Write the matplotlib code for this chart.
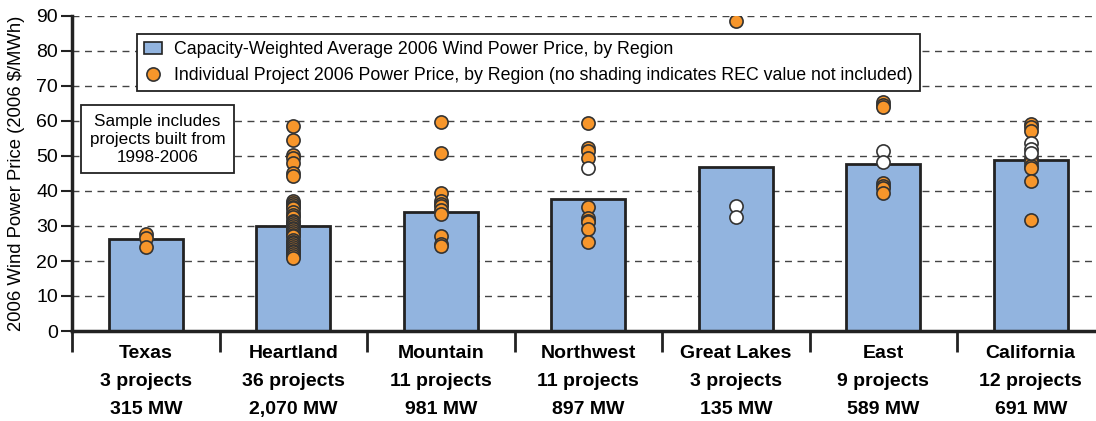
import matplotlib
matplotlib.use("Agg")
import matplotlib.pyplot as plt
from matplotlib.patches import Patch
from matplotlib.lines import Line2D

plt.rcParams['font.family'] = ['Liberation Sans', 'DejaVu Sans']

# regions and their capacity-weighted average price
regions = ['Texas', 'Heartland', 'Mountain', 'Northwest', 'Great Lakes', 'East', 'California']
n_projects = ['3 projects', '36 projects', '11 projects', '11 projects', '3 projects', '9 projects', '12 projects']
capacity = ['315 MW', '2,070 MW', '981 MW', '897 MW', '135 MW', '589 MW', '691 MW']
avg_price = [26.3, 30.0, 34.0, 37.8, 46.8, 47.7, 48.9]

# individual project prices (orange = REC value included, white = not included)
texas_rec = [27.6, 26.7, 24.1]
texas_norec = []
heartland_rec = [58.5, 54.5, 50.3, 49.5, 48.0, 45.0, 44.2,
                 37.0, 36.5, 36.0, 35.5, 35.0, 34.0, 33.0, 32.5, 31.5, 31.0,
                 30.5, 30.0, 29.5, 29.0, 28.5, 28.0, 27.5, 27.0, 26.0, 25.5,
                 25.0, 24.5, 24.0, 23.5, 23.0, 22.5, 22.0, 21.5, 21.0]
heartland_norec = []
mountain_rec = [59.7, 50.8, 39.3, 37.0, 36.3, 35.7, 34.5, 33.3, 27.2, 24.8, 24.2]
mountain_norec = []
northwest_rec = [59.3, 52.3, 51.5, 49.3, 35.5, 32.2, 31.5, 31.0, 29.1, 25.5]
northwest_norec = [46.5]
greatlakes_rec = [88.5]
greatlakes_norec = [35.7, 32.7]
east_rec = [65.3, 64.6, 63.9, 42.2, 41.5, 40.8, 39.3]
east_norec = [51.5, 48.4]
california_rec = [59.1, 58.2, 57.2, 49.3, 48.3, 47.1, 46.5, 42.9, 31.7]
california_norec = [53.8, 51.9, 50.8]

rec_points = [texas_rec, heartland_rec, mountain_rec, northwest_rec, greatlakes_rec, east_rec, california_rec]
norec_points = [texas_norec, heartland_norec, mountain_norec, northwest_norec, greatlakes_norec, east_norec, california_norec]

bar_color = '#92b4df'
dot_color = '#f7962b'
edge = '#222222'

fig = plt.figure(figsize=(10.96, 4.21), dpi=100)
ax = fig.add_axes([72 / 1096, 90 / 421, 1032.5 / 1096, 315 / 421])

x = list(range(len(regions)))
ax.bar(x, avg_price, width=0.5, color=bar_color, edgecolor=edge, linewidth=2, zorder=2)

for i in x:
    if rec_points[i]:
        ax.scatter([i] * len(rec_points[i]), rec_points[i], s=90, color=dot_color,
                   edgecolor='#333333', linewidth=1.2, zorder=3)
    if norec_points[i]:
        ax.scatter([i] * len(norec_points[i]), norec_points[i], s=90, color='white',
                   edgecolor='#333333', linewidth=1.2, zorder=3)

ax.set_xlim(-0.5, 6.5)
ax.set_ylim(0, 90)
ax.set_yticks(range(0, 91, 10))
ax.tick_params(axis='y', labelsize=14, length=8, width=1.5, color=edge, pad=2)
ax.yaxis.grid(True, linestyle=(0, (5, 4)), color='#444444', linewidth=1)
ax.set_axisbelow(True)

# category labels + divider ticks
ax.set_xticks(x)
ax.set_xticklabels([f'{r}\n{p}\n{c}' for r, p, c in zip(regions, n_projects, capacity)],
                   fontsize=14, fontweight='bold', linespacing=1.85)
ax.tick_params(axis='x', which='major', length=0, pad=10)
ax.set_xticks([i + 0.5 for i in range(-1, 7)], minor=True)
ax.tick_params(axis='x', which='minor', length=15, width=2, color=edge)

for s in ['top', 'right']:
    ax.spines[s].set_visible(False)
ax.spines['left'].set_linewidth(2.5)
ax.spines['bottom'].set_linewidth(2.5)
ax.spines['left'].set_color(edge)
ax.spines['bottom'].set_color(edge)

ax.set_ylabel('2006 Wind Power Price (2006 $/MWh)', fontsize=13.3, labelpad=8)

handles = [
    Patch(facecolor=bar_color, edgecolor=edge, linewidth=1.2),
    Line2D([], [], marker='o', linestyle='none', markersize=9.5, markerfacecolor=dot_color,
           markeredgecolor='#333333', markeredgewidth=1.2),
]
labels = ['Capacity-Weighted Average 2006 Wind Power Price, by Region',
          'Individual Project 2006 Power Price, by Region (no shading indicates REC value not included)']
leg = ax.legend(handles, labels, loc='upper left', bbox_to_anchor=(0.063, 0.943), borderaxespad=0,
                fontsize=12.8, fancybox=False, framealpha=1, edgecolor=edge, handlelength=1.0,
                handletextpad=0.7, labelspacing=0.5, borderpad=0.4)
leg.get_frame().set_linewidth(1.3)
leg.set_zorder(5)

ax.text(0.0828, 0.6095, 'Sample includes\nprojects built from\n1998-2006', transform=ax.transAxes,
        ha='center', va='center', fontsize=12.3, linespacing=1.25, zorder=5,
        bbox=dict(boxstyle='square,pad=0.5', facecolor='white', edgecolor=edge, linewidth=1.3))

fig.savefig('out.png', dpi=100)
